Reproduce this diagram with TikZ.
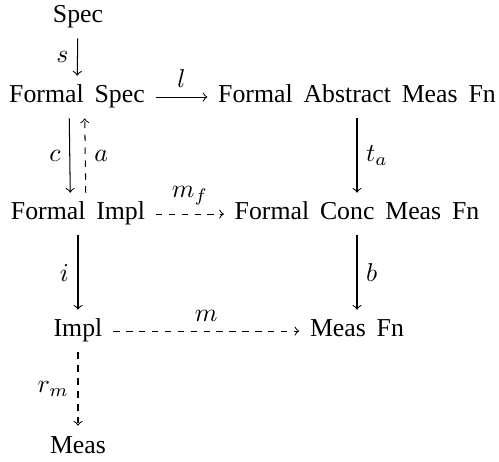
\documentclass[tikz,border=0pt]{standalone}
\usepackage{fontspec}
\setmainfont{Liberation Serif}[WordSpace=1.68]
\usetikzlibrary{positioning}
\tikzset{
  obj/.style ={anchor=base, inner xsep=4pt, inner ysep=3.6pt, text height=6.8pt, text depth=2.2pt},
  map/.style ={->, thin},
  dmap/.style={->, thin, dash pattern=on 2.5pt off 2.5pt},
}

\begin{document}
\begin{tikzpicture}[x=0.3876pt, y=-0.3876pt]
  \useasboundingbox (0,0) rectangle (499,462);
  \node[obj] (spec)  at (78,23)   {Spec};
  \node[obj] (fspec) at (77,103)  {Formal Spec};
  \node[obj] (fabs)  at (357,103) {Formal Abstract Meas Fn};
  \node[obj] (fimpl) at (78,220)  {Formal Impl};
  \node[obj] (fconc) at (357,220) {Formal Conc Meas Fn};
  \node[obj] (impl)  at (78,337)  {Impl};
  \node[obj] (measfn) at (357,337) {Meas Fn};
  \node[obj] (meas)  at (78,453)  {Meas};
  \draw[map] (spec) -- node[left] {$s$} (fspec);
  \draw[map] (fspec) -- node[above] {$l$} (fabs);
  \draw[map] ([xshift=-3pt]fspec.south) -- node[left] {$c$} ([xshift=-3pt]fimpl.north);
  \draw[dmap] ([xshift=3pt]fimpl.north) -- node[right] {$a$} ([xshift=3pt]fspec.south);
  \draw[dmap] (fimpl) -- node[above] {$m_f$} (fconc);
  \draw[map] (fabs) -- node[right] {$t_a$} (fconc);
  \draw[map] (fimpl) -- node[left] {$i$} (impl);
  \draw[map] (fconc) -- node[right] {$b$} (measfn);
  \draw[dmap] (impl) -- node[above] {$m$} (measfn);
  \draw[dmap] (impl) -- node[left] {$r_m$} (meas);
\end{tikzpicture}
\end{document}
